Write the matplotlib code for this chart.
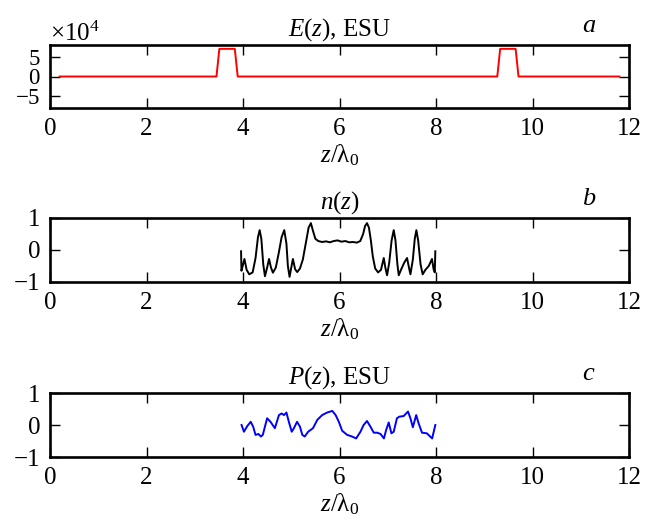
"""Three stacked profiles: field E(z), density n(z), polarisation P(z)."""
import matplotlib
matplotlib.use("Agg")
import matplotlib.pyplot as plt
from matplotlib.ticker import ScalarFormatter

plt.rcParams["font.family"] = ["Liberation Serif", "DejaVu Serif"]
plt.rcParams["mathtext.fontset"] = "custom"
plt.rcParams["mathtext.rm"] = "Liberation Serif"
plt.rcParams["mathtext.it"] = "Liberation Serif:italic"
plt.rcParams["font.size"] = 18

# (a) E(z), two rectangular pulses
e_z = [0.2, 3.45, 3.51, 3.83, 3.89, 9.27, 9.33, 9.65, 9.71, 11.8]
e_val = [0, 0, 7.2e4, 7.2e4, 0, 0, 7.2e4, 7.2e4, 0, 0]

# (b) n(z)
n_z = [3.960, 3.968, 3.985, 4.030, 4.075, 4.130, 4.200, 4.260, 4.310, 4.345,
       4.380, 4.420, 4.455, 4.500, 4.540, 4.580, 4.620, 4.680, 4.740, 4.800,
       4.855, 4.900, 4.930, 4.965, 5.000, 5.034, 5.080, 5.124, 5.180, 5.240,
       5.300, 5.360, 5.407, 5.450, 5.500, 5.560, 5.640, 5.720, 5.800, 5.880,
       5.960, 6.040, 6.120, 6.200, 6.280, 6.360, 6.430, 6.490, 6.530, 6.570,
       6.610, 6.650, 6.690, 6.740, 6.800, 6.860, 6.917, 6.950, 6.986, 7.030,
       7.080, 7.124, 7.160, 7.200, 7.228, 7.280, 7.340, 7.400, 7.440, 7.470,
       7.520, 7.560, 7.593, 7.630, 7.680, 7.724, 7.780, 7.850, 7.917, 7.950,
       7.975, 7.986]
n_val = [-0.04, -0.65, -0.55, -0.28, -0.62, -0.76, -0.70, -0.25, 0.40, 0.62,
         0.35, -0.45, -0.82, -0.55, -0.28, -0.55, -0.71, -0.55, -0.10, 0.40,
         0.62, 0.20, -0.50, -0.84, -0.55, -0.28, -0.60, -0.69, -0.58, -0.30,
         0.20, 0.70, 0.84, 0.60, 0.35, 0.28, 0.25, 0.27, 0.24, 0.28,
         0.30, 0.26, 0.28, 0.24, 0.25, 0.23, 0.28, 0.50, 0.75, 0.84,
         0.70, 0.30, -0.20, -0.58, -0.70, -0.62, -0.25, -0.55, -0.79, -0.40,
         0.30, 0.62, 0.30, -0.45, -0.79, -0.60, -0.40, -0.25, -0.55, -0.76,
         -0.30, 0.35, 0.62, 0.30, -0.45, -0.76, -0.62, -0.50, -0.28, -0.60,
         -0.70, -0.04]

# (c) P(z)
p_z = [3.97, 4.02, 4.09, 4.16, 4.21, 4.26, 4.32, 4.37, 4.41, 4.50,
       4.57, 4.66, 4.745, 4.80, 4.85, 4.90, 4.95, 5.01, 5.055, 5.12,
       5.18, 5.23, 5.28, 5.35, 5.45, 5.54, 5.64, 5.745, 5.85, 5.92,
       5.986, 6.055, 6.16, 6.26, 6.345, 6.434, 6.50, 6.57, 6.64, 6.71,
       6.78, 6.85, 6.92, 6.966, 7.02, 7.076, 7.124, 7.19, 7.24, 7.33,
       7.42, 7.47, 7.52, 7.59, 7.64, 7.71, 7.81, 7.92, 7.986]
p_val = [0.0, -0.21, -0.03, 0.10, -0.05, -0.31, -0.28, -0.36, -0.31, 0.21,
         0.10, -0.10, 0.31, 0.36, 0.31, 0.39, 0.10, -0.21, -0.10, 0.10,
         -0.05, -0.31, -0.36, -0.21, -0.10, 0.16, 0.31, 0.39, 0.44, 0.31,
         0.10, -0.18, -0.31, -0.36, -0.42, -0.21, 0.0, 0.125, -0.05, -0.24,
         -0.24, -0.28, -0.42, -0.16, 0.08, -0.26, -0.21, 0.21, 0.26, 0.28,
         0.42, 0.21, -0.07, 0.31, 0.05, -0.24, -0.26, -0.42, 0.0]

x_ticks = [0, 2, 4, 6, 8, 10, 12]

fig = plt.figure(figsize=(6.53, 5.25), dpi=100)
W, H = 653, 525
left, width = 50 / W, 579 / W
ax_a = fig.add_axes([left, 1 - 108 / H, width, 63 / H])
ax_b = fig.add_axes([left, 1 - 282 / H, width, 64 / H])
ax_c = fig.add_axes([left, 1 - 457 / H, width, 64 / H])

ax_a.plot(e_z, e_val, color="#ff0000", lw=1.4)
ax_b.plot(n_z, n_val, color="black", lw=1.4)
ax_c.plot(p_z, p_val, color="#0000ff", lw=1.4)

ax_a.set_ylim(-8.2e4, 8.2e4)
ax_a.set_yticks([-5e4, 0, 5e4])
fmt = ScalarFormatter(useMathText=True)
fmt.set_powerlimits((0, 0))
ax_a.yaxis.set_major_formatter(fmt)
ax_a.yaxis.get_offset_text().set_fontsize(18)

for ax in (ax_b, ax_c):
    ax.set_ylim(-1, 1)
    ax.set_yticks([-1, 0, 1])

titles = [r"$E(z)$, ESU", r"$n(z)$", r"$P(z)$, ESU"]
letters = ["a", "b", "c"]
for ax, ttl, let in zip((ax_a, ax_b, ax_c), titles, letters):
    ax.set_xlim(0, 12)
    ax.set_xticks(x_ticks)
    ax.tick_params(direction="in", top=True, right=True, length=7,
                   width=1.0, pad=7, labelsize=18)
    for s in ax.spines.values():
        s.set_linewidth(1.9)
    ax.set_xlabel(r"$z/\mathrm{\lambda}_0$", labelpad=2)
    ax.set_title(ttl, pad=7, fontsize=18)
    ax.text(0.93, 1.12, let, transform=ax.transAxes, fontsize=19,
            style="italic", ha="center", va="bottom")

ax_a.tick_params(axis="y", labelsize=16.5)

fig.savefig("out.png", dpi=100)
